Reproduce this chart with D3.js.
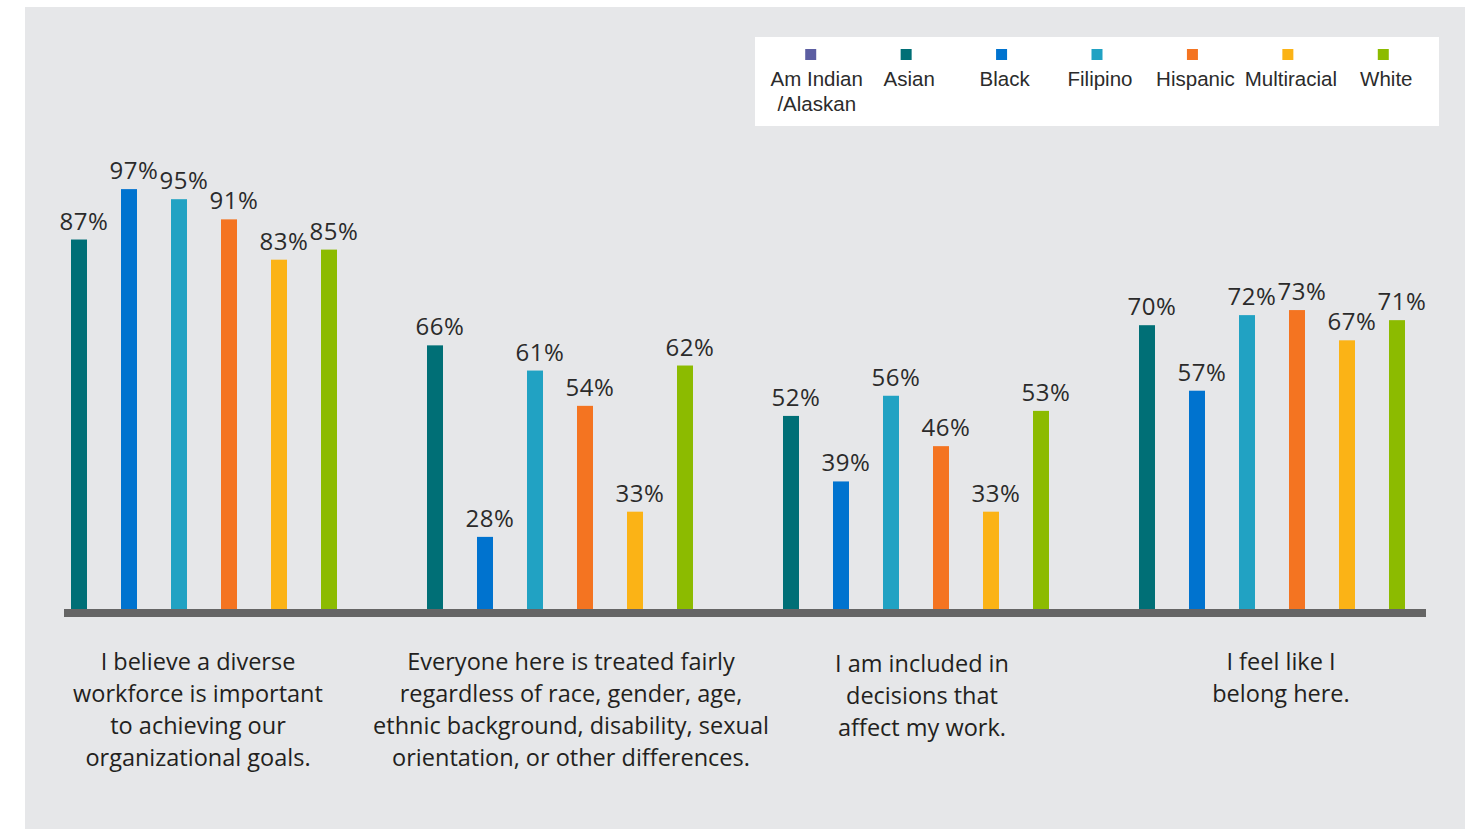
<!DOCTYPE html>
<html>
<head>
<meta charset="utf-8">
<script src="https://cdn.jsdelivr.net/npm/d3@7"></script>
<style>
  html, body { margin: 0; padding: 0; background: #ffffff; }
  svg { display: block; }
</style>
</head>
<body>
<svg id="chart" width="1480" height="829"></svg>
<script>
// ---------- data ----------
const categories = [
  "I believe a diverse workforce is important to achieving our organizational goals.",
  "Everyone here is treated fairly regardless of race, gender, age, ethnic background, disability, sexual orientation, or other differences.",
  "I am included in decisions that affect my work.",
  "I feel like I belong here."
];
const categoryLines = [
  ["I believe a diverse", "workforce is important", "to achieving our", "organizational goals."],
  ["Everyone here is treated fairly", "regardless of race, gender, age,", "ethnic background, disability, sexual", "orientation, or other differences."],
  ["I am included in", "decisions that", "affect my work."],
  ["I feel like I", "belong here."]
];
const seriesNames = ["Am Indian /Alaskan", "Asian", "Black", "Filipino", "Hispanic", "Multiracial", "White"];
const legendLines = [["Am Indian", "/Alaskan"], ["Asian"], ["Black"], ["Filipino"], ["Hispanic"], ["Multiracial"], ["White"]];
const seriesColors = ["#5c5ea2", "#006f76", "#0073cf", "#21a2c3", "#f47421", "#fbb316", "#8cbb00"];
const amIndian    = [null, null, null, null];
const asian       = [87, 66, 52, 70];
const black       = [97, 28, 39, 57];
const filipino    = [95, 61, 56, 72];
const hispanic    = [91, 54, 46, 73];
const multiracial = [83, 33, 33, 67];
const white       = [85, 62, 53, 71];
const seriesValues = [amIndian, asian, black, filipino, hispanic, multiracial, white];

// ---------- layout ----------
const svg = d3.select("#chart");
const baseline = 610;

svg.append("rect").attr("x", 25).attr("y", 7).attr("width", 1440).attr("height", 830).attr("fill", "#e6e7e9");

const x0 = d3.scaleBand().domain(categories).range([26, 1450]).padding(0);
const plotted = seriesNames.filter((s, i) => seriesValues[i].some(v => v != null));
const x1 = d3.scaleBand().domain(plotted).range([45, 311]).paddingInner(0.68).paddingOuter(0);
const y = d3.scaleLinear().domain([0, 100]).range([678, 174]);
const color = d3.scaleOrdinal().domain(seriesNames).range(seriesColors);

const rows = [];
categories.forEach((c, ci) => {
  seriesNames.forEach((s, si) => {
    const v = seriesValues[si][ci];
    if (v != null) rows.push({ cat: c, series: s, value: v });
  });
});

const g = svg.append("g");
g.selectAll("rect.bar").data(rows).join("rect")
  .attr("class", "bar")
  .attr("x", d => x0(d.cat) + x1(d.series))
  .attr("y", d => y(d.value))
  .attr("width", x1.bandwidth())
  .attr("height", d => baseline - y(d.value))
  .attr("fill", d => color(d.series));

g.selectAll("text.val").data(rows).join("text")
  .attr("class", "val")
  .attr("x", d => x0(d.cat) + x1(d.series) + x1.bandwidth() / 2 + 5)
  .attr("y", d => y(d.value) - 10)
  .attr("text-anchor", "middle")
  .attr("font-family", "'Open Sans', sans-serif")
  .attr("font-size", 24)
  .attr("letter-spacing", 0.6)
  .attr("fill", "#2b2b2b")
  .text(d => d.value + "%");

// baseline axis
svg.append("rect").attr("x", 64).attr("y", 609).attr("width", 1362).attr("height", 8).attr("fill", "#656565");

// category labels
const catShift = [-6, 11, 6, 9];
categories.forEach((c, ci) => {
  const cx = x0(c) + x0.bandwidth() / 2 + catShift[ci];
  const t = svg.append("text")
    .attr("y", 670 + (ci === 2 ? 2 : 0))
    .attr("text-anchor", "middle")
    .attr("font-family", "'Open Sans', sans-serif")
    .attr("font-size", 23.5)
    .attr("fill", "#231f20");
  categoryLines[ci].forEach((line, li) => {
    t.append("tspan").attr("x", cx).attr("dy", li === 0 ? 0 : 32).text(line);
  });
});

// legend
svg.append("rect").attr("x", 755).attr("y", 37).attr("width", 684).attr("height", 89).attr("fill", "#ffffff");
const lx = d3.scaleBand().domain(seriesNames).range([763, 1431]);
const leg = svg.append("g").selectAll("g").data(seriesNames).join("g")
  .attr("transform", d => `translate(${lx(d) + lx.bandwidth() / 2},0)`);
leg.append("rect").attr("x", -5.5).attr("y", 49).attr("width", 11).attr("height", 11).attr("fill", d => color(d));
leg.append("text")
  .attr("text-anchor", "middle")
  .attr("font-family", "'Liberation Sans', Arial, sans-serif")
  .attr("font-size", 20.5)
  .attr("fill", "#2b2b2b")
  .each(function(d, i) {
    const t = d3.select(this);
    legendLines[i].forEach((line, li) => {
      t.append("tspan").attr("x", i === 0 ? 6 : 3).attr("y", 86 + li * 25).text(line);
    });
  });
</script>
</body>
</html>
